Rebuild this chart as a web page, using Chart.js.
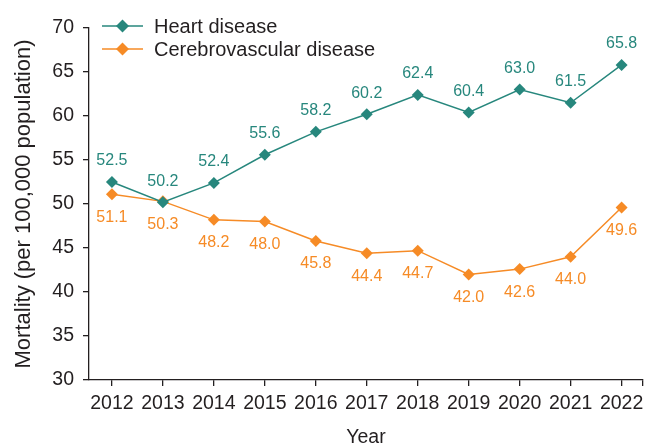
<!DOCTYPE html>
<html>
<head>
<meta charset="utf-8">
<script src="https://cdn.jsdelivr.net/npm/chart.js@4.4.1/dist/chart.umd.min.js"></script>
<style>
  html, body { margin: 0; padding: 0; background: #fff; }
  #wrap { width: 649px; height: 446px; }
</style>
</head>
<body>
<div id="wrap"><canvas id="chart"></canvas></div>
<script>
const years = [2012, 2013, 2014, 2015, 2016, 2017, 2018, 2019, 2020, 2021, 2022];
const heart = [52.5, 50.2, 52.4, 55.6, 58.2, 60.2, 62.4, 60.4, 63.0, 61.5, 65.8];
const cerebro = [51.1, 50.3, 48.2, 48.0, 45.8, 44.4, 44.7, 42.0, 42.6, 44.0, 49.6];
const yTicks = [30, 35, 40, 45, 50, 55, 60, 65, 70];

const TEAL = '#27877d';
const ORANGE = '#f68b26';
const INK = '#231f20';
const FONT = '"Liberation Sans", Arial, Helvetica, sans-serif';

// value labels: teal above, orange below
const valueLabels = {
    id: 'valueLabels',
    afterDatasetsDraw(chart) {
        const ctx = chart.ctx;
        ctx.save();
        ctx.font = '16px ' + FONT;
        ctx.textAlign = 'center';
        ctx.textBaseline = 'middle';
        chart.data.datasets.forEach((ds, i) => {
            const meta = chart.getDatasetMeta(i);
            const off = i === 0 ? -21 : 23;
            ctx.fillStyle = ds.borderColor;
            meta.data.forEach((pt, j) => {
                ctx.fillText(ds.data[j].y.toFixed(1), pt.x, pt.y + off);
            });
        });
        ctx.restore();
    }
};

// legend inside the plot, line + diamond
const insideLegend = {
    id: 'insideLegend',
    afterDraw(chart) {
        const ctx = chart.ctx;
        ctx.save();
        ctx.font = '20px ' + FONT;
        ctx.textBaseline = 'middle';
        const rows = [26, 49];
        chart.data.datasets.forEach((ds, i) => {
            const y = rows[i];
            ctx.strokeStyle = ds.borderColor;
            ctx.lineWidth = 1.5;
            ctx.beginPath();
            ctx.moveTo(102, y);
            ctx.lineTo(143, y);
            ctx.stroke();
            ctx.fillStyle = ds.borderColor;
            ctx.beginPath();
            ctx.moveTo(122.5, y - 6.5);
            ctx.lineTo(129, y);
            ctx.lineTo(122.5, y + 6.5);
            ctx.lineTo(116, y);
            ctx.closePath();
            ctx.fill();
            ctx.fillStyle = INK;
            ctx.fillText(ds.label, 154, y + 1);
        });
        ctx.restore();
    }
};

const ctx = document.getElementById('chart').getContext('2d');
const chart = new Chart(ctx, {
    type: 'line',
    data: {
        datasets: [
            {
                label: 'Heart disease',
                data: years.map((y, i) => ({ x: y, y: heart[i] })),
                borderColor: TEAL,
                backgroundColor: TEAL,
                borderWidth: 1.5,
                pointStyle: 'rectRot',
                pointRadius: 6,
                pointBorderWidth: 0,
                tension: 0
            },
            {
                label: 'Cerebrovascular disease',
                data: years.map((y, i) => ({ x: y, y: cerebro[i] })),
                borderColor: ORANGE,
                backgroundColor: ORANGE,
                borderWidth: 1.5,
                pointStyle: 'rectRot',
                pointRadius: 6,
                pointBorderWidth: 0,
                tension: 0
            }
        ]
    },
    options: {
        responsive: true,
        maintainAspectRatio: false,
        animation: false,
        layout: { padding: { top: 28, right: 1, left: 0, bottom: 0 } },
        plugins: {
            legend: { display: false },
            tooltip: { enabled: false }
        },
        scales: {
            x: {
                type: 'linear',
                min: 2011.55,
                max: 2022.42,
                afterBuildTicks: (axis) => {
                    axis.ticks = years.map(v => ({ value: v })).concat([{ value: 2022.42 }]);
                },
                afterFit: (axis) => { axis.height = 66; },
                ticks: {
                    color: INK,
                    font: { family: FONT, size: 19.5 },
                    padding: 6,
                    maxRotation: 0,
                    autoSkip: false,
                    callback: (v) => Number.isInteger(v) ? String(v) : ''
                },
                grid: {
                    drawOnChartArea: false,
                    drawTicks: true,
                    tickLength: 6,
                    color: INK,
                    lineWidth: 1.3
                },
                border: { display: true, color: INK, width: 1.3 },
                title: {
                    display: true,
                    text: 'Year',
                    color: INK,
                    font: { family: FONT, size: 19.5, lineHeight: 0.9 },
                    padding: { top: 0, bottom: 0 }
                }
            },
            y: {
                min: 30,
                max: 70,
                afterBuildTicks: (axis) => {
                    axis.ticks = yTicks.map(v => ({ value: v }));
                },
                afterFit: (axis) => { axis.width = 89; },
                ticks: {
                    color: INK,
                    font: { family: FONT, size: 19.5 },
                    padding: 9
                },
                grid: {
                    drawOnChartArea: false,
                    drawTicks: true,
                    tickLength: 6,
                    color: INK,
                    lineWidth: 1.3
                },
                border: { display: true, color: INK, width: 1.3 },
                title: {
                    display: true,
                    text: 'Mortality (per 100,000 population)',
                    color: INK,
                    font: { family: FONT, size: 22 },
                    padding: { top: 11, bottom: 0 }
                }
            }
        }
    },
    plugins: [valueLabels, insideLegend]
});
</script>
</body>
</html>
